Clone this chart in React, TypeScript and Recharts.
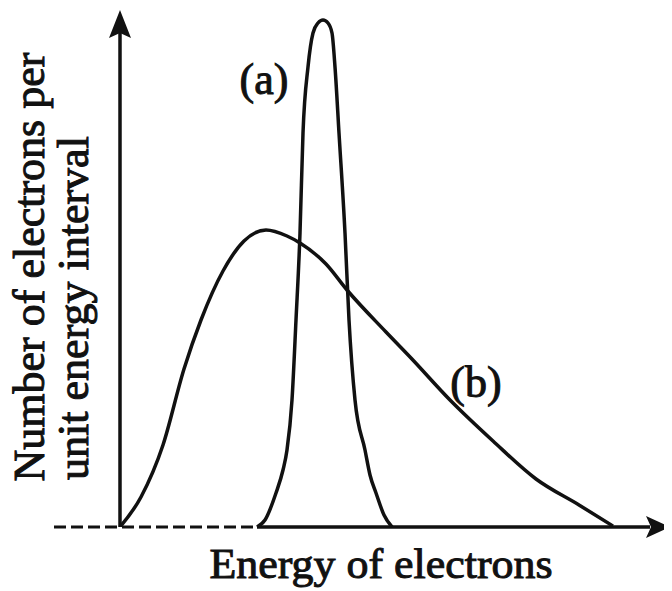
import { Line, LineChart, ReferenceDot, ReferenceLine, XAxis, YAxis } from "recharts";

// energy (arbitrary units) vs number of electrons per unit energy interval
const curveAEnergy = [27.4, 29, 31.2, 32.6, 33.4, 34.4, 35.2, 36, 36.6, 37.6, 38.6, 39.6, 40.6, 41.6, 42.4, 43, 43.8, 45, 45.8, 47, 49, 50, 51.2, 52.8, 54.4];
const curveACount = [0, 1.4, 6.8, 11.4, 15.4, 25.4, 41.4, 58.8, 78.8, 92, 98.8, 100.8, 101.4, 100.8, 98.8, 92, 78.8, 58.8, 41.4, 25.4, 15.4, 10.4, 6.8, 2.4, 0];

const curveBEnergy = [0, 4.2, 8.6, 12.8, 16.2, 20.6, 24.8, 29.2, 33.4, 36, 41.2, 45.4, 53.2, 58.2, 66, 74.6, 83.2, 91.8, 98.6];
const curveBCount = [0, 6, 16.4, 31.6, 41.4, 51.2, 57.2, 59.4, 58.2, 56.8, 52.6, 47.4, 39, 33.8, 25.4, 17.2, 9.6, 4.4, 0.2];

const X_DOMAIN: [number, number] = [-14, 110];
const Y_DOMAIN: [number, number] = [0, 103.6];

const curveA = curveAEnergy.map((x, i) => ({ x, y: curveACount[i] }));
const curveB = curveBEnergy.map((x, i) => ({ x, y: curveBCount[i] }));

const INK = "#111";
const FONT = "'Liberation Serif', 'Times New Roman', serif";

const RightArrow = (props: any) => {
  const { cx, cy } = props;
  return <polygon points={`${cx},${cy} ${cx - 24},${cy - 11} ${cx - 19},${cy} ${cx - 24},${cy + 11}`} fill={INK} />;
};

const UpArrow = (props: any) => {
  const { cx, cy } = props;
  return <polygon points={`${cx},${cy} ${cx - 11},${cy + 28} ${cx},${cy + 23} ${cx + 11},${cy + 28}`} fill={INK} />;
};

export default function App() {
  return (
    <div style={{ position: "relative", width: 664, height: 583 }}>
      <LineChart width={664} height={583} data={curveB} margin={{ top: 1, right: 2, bottom: 64, left: 42 }}>
        <XAxis type="number" dataKey="x" domain={X_DOMAIN} allowDataOverflow hide />
        <YAxis type="number" domain={Y_DOMAIN} allowDataOverflow hide />
        {/* axes drawn by hand: dashed stub left of origin, arrows at the ends */}
        <ReferenceLine segment={[{ x: -13.2, y: 0 }, { x: 27.4, y: 0 }]} stroke={INK} strokeWidth={3} strokeDasharray="12 5" ifOverflow="visible" />
        <ReferenceLine segment={[{ x: 27.4, y: 0 }, { x: 106, y: 0 }]} stroke={INK} strokeWidth={3.5} ifOverflow="visible" />
        <ReferenceLine segment={[{ x: 0, y: 0 }, { x: 0, y: 99 }]} stroke={INK} strokeWidth={3.5} ifOverflow="visible" />
        <ReferenceDot x={110} y={0} r={0} shape={RightArrow} ifOverflow="visible" />
        <ReferenceDot x={0} y={103.4} r={0} shape={UpArrow} ifOverflow="visible" />
        <Line data={curveB} dataKey="y" type="monotone" stroke={INK} strokeWidth={3.5} dot={false} isAnimationActive={false} />
        <Line data={curveA} dataKey="y" type="monotone" stroke={INK} strokeWidth={3.5} dot={false} isAnimationActive={false} />
      </LineChart>
      <svg width={664} height={583} style={{ position: "absolute", left: 0, top: 0, pointerEvents: "none", overflow: "visible" }}>
        <g fontFamily={FONT} fill={INK} stroke={INK} strokeWidth={1}>
          <text x={36} y={259} fontSize={44} textAnchor="middle" transform="rotate(-90 36 259)">
            Number of electrons per
          </text>
          <text x={80} y={300} fontSize={44} textAnchor="middle" transform="rotate(-90 80 300)">
            unit energy interval
          </text>
          <text x={373} y={570} fontSize={43} textAnchor="middle" textLength={343} lengthAdjust="spacingAndGlyphs">
            Energy of electrons
          </text>
          <text x={256} y={86} fontSize={44} textAnchor="middle">(a)</text>
          <text x={468} y={389} fontSize={44} textAnchor="middle">(b)</text>
        </g>
      </svg>
    </div>
  );
}
